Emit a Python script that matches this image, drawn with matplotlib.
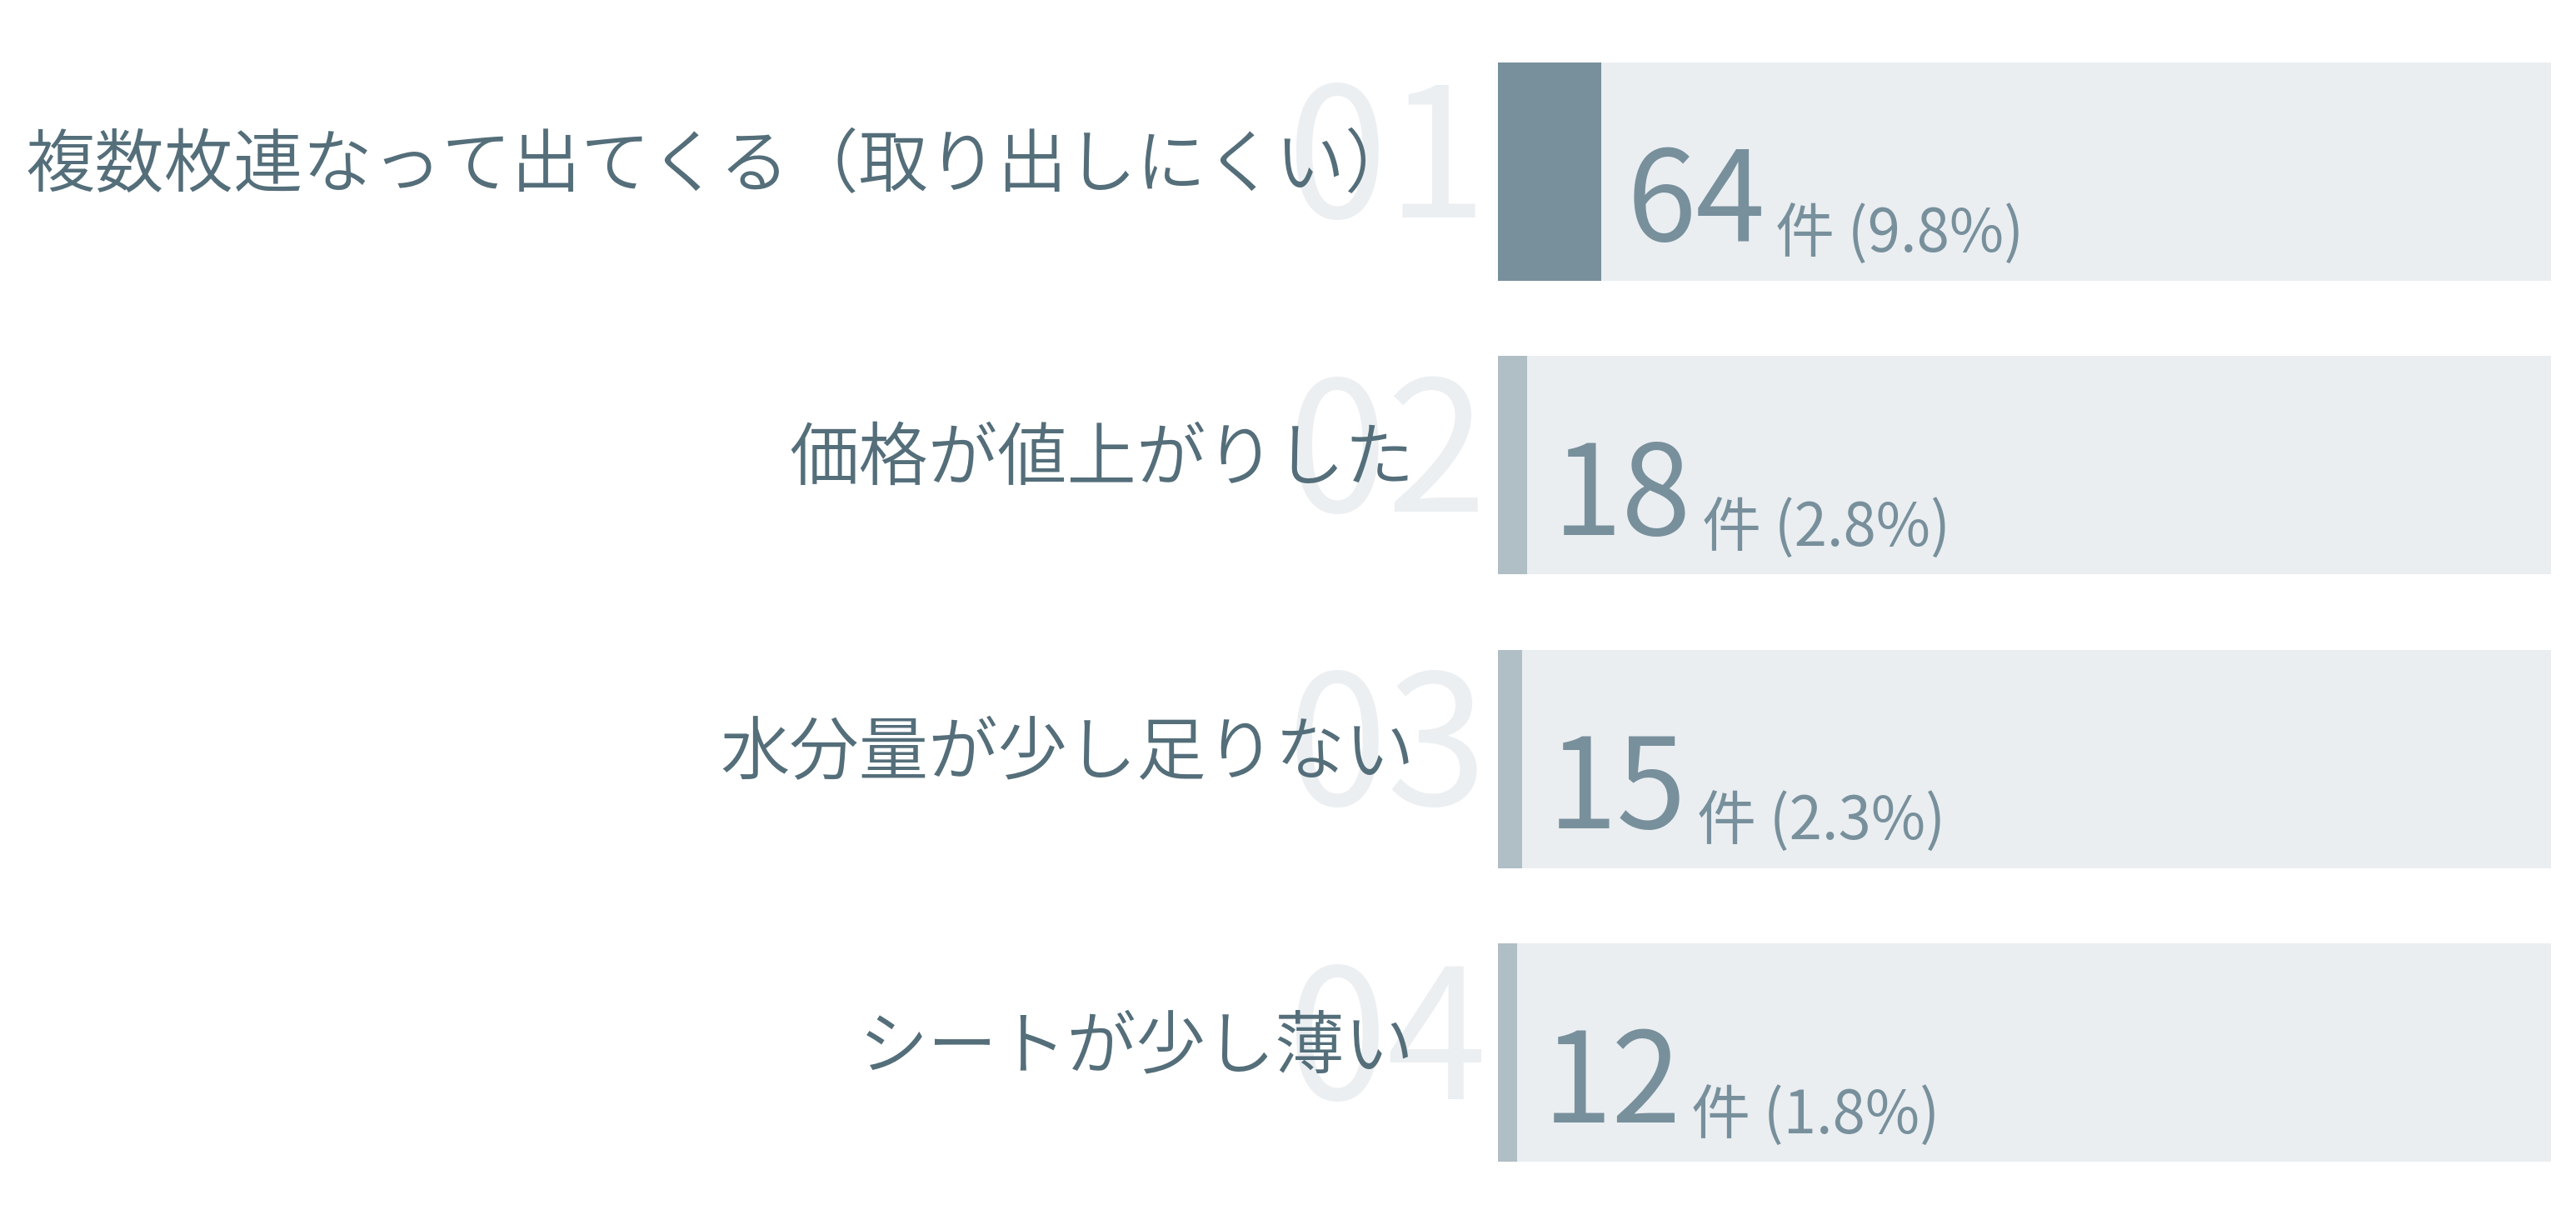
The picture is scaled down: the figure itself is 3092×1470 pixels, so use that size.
import matplotlib
matplotlib.use("Agg")
import matplotlib.pyplot as plt

plt.rcParams['font.family'] = ['Noto Sans CJK JP', 'DejaVu Sans']

labels = ["複数枚連なって出てくる（取り出しにくい）", "価格が値上がりした",
          "水分量が少し足りない", "シートが少し薄い"]
ranks = ["01", "02", "03", "04"]
counts = [64, 18, 15, 12]
shares = [9.8, 2.8, 2.3, 1.8]

TRACK = '#eaeef1'
FILL_TOP = '#78909c'
FILL = '#b0bec5'
LABEL_C = '#546e7a'
VALUE_C = '#78909c'
RANK_C = '#eceff1'

fig = plt.figure(figsize=(30.92, 14.70), dpi=100)
ax = fig.add_axes([0.5815, 0.0517, 0.4088, 0.8973])

ys = list(range(len(labels)))
h = 0.742
ax.barh(ys, [100] * len(ys), height=h, color=TRACK, zorder=1)
ax.barh(ys, shares, height=h, zorder=2,
        color=[FILL_TOP if i == 0 else FILL for i in ys])

ax.set_xlim(0, 100)
ax.set_ylim(len(ys) - 1 + h / 2, -h / 2)
ax.axis('off')

for i, y in enumerate(ys):
    # big pale rank number behind the label
    ax.annotate(ranks[i], xy=(0, y), xytext=(-183, -40), textcoords='offset points',
                ha='left', va='baseline', fontsize=156, color=RANK_C,
                annotation_clip=False, zorder=0)
    ax.annotate(labels[i], xy=(0, y), xytext=(-72, 4), textcoords='offset points',
                ha='right', va='center', fontsize=60, color=LABEL_C,
                fontweight=350, annotation_clip=False, zorder=3)
    num = ax.annotate(str(counts[i]), xy=(shares[i], y), xytext=(22, -60),
                      textcoords='offset points', ha='left', va='baseline',
                      fontsize=108, color=VALUE_C, zorder=3)
    ax.annotate(f"件 ({shares[i]}%)", xy=(1, y), xycoords=(num, 'data'),
                xytext=(9, -70), textcoords='offset points', ha='left',
                va='baseline', fontsize=51, color=VALUE_C, zorder=3)

fig.savefig('out.png', dpi=100, facecolor='white')
